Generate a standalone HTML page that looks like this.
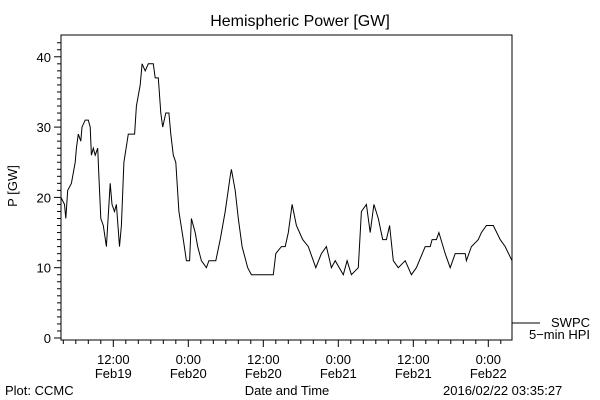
<!DOCTYPE html>
<html><head><meta charset="utf-8"><style>
html,body{margin:0;padding:0;background:#fff;}
svg{display:block;font-family:"Liberation Sans",sans-serif;}
</style></head><body>
<svg id="chart" width="600" height="400" viewBox="0 0 600 400">
<text x="300" y="26" text-anchor="middle" font-size="16">Hemispheric Power [GW]</text>
<text x="17" y="186" text-anchor="middle" font-size="13" transform="rotate(-90 17 186)">P [GW]</text>
<text x="287" y="395" text-anchor="middle" font-size="13">Date and Time</text>
<text x="5" y="395" font-size="13">Plot: CCMC</text>
<text x="443" y="395" font-size="13">2016/02/22 03:35:27</text>
<rect x="61" y="35" width="451" height="305" fill="none" stroke="#000" stroke-width="1"/>
<g id="yaxis"></g>
<g id="xaxis"></g>
<g id="series"></g>
<line x1="512" y1="323" x2="540" y2="323" stroke="#000"/>
<text x="590" y="327" text-anchor="end" font-size="13">SWPC</text>
<text x="590" y="339" text-anchor="end" font-size="13">5−min HPI</text>
</svg>
<script>
// hours since 0:00 Feb19
const times = [3.6,4.2,4.4,4.7,5.3,5.9,6.1,6.4,6.8,7.0,7.5,8.0,8.3,8.5,8.8,9.1,9.5,9.7,10.0,10.4,10.9,11.5,11.8,12.2,12.5,13.0,13.3,13.7,14.4,15.4,15.7,16.3,16.6,17.1,17.6,18.4,18.7,19.2,19.6,19.9,20.4,20.9,21.2,21.6,22.0,22.5,23.2,23.7,24.2,24.5,25.1,25.5,26.1,26.9,27.3,28.4,29.1,29.9,30.7,30.9,31.5,32.0,32.6,33.5,34.1,37.6,38.0,38.9,39.5,40.0,40.6,41.3,42.3,43.2,44.4,45.3,46.1,46.9,47.5,48.8,49.4,50.1,51.2,51.7,52.5,53.1,53.7,54.4,55.1,55.7,56.2,56.8,57.6,58.7,59.7,60.5,61.9,62.7,63.0,63.7,64.1,65.1,65.9,66.7,68.3,68.5,69.3,70.4,70.9,71.7,72.8,73.9,74.7,75.8];
const power = [20,19,17,21,22,25,27,29,28,30,31,31,30,26,27,26,27,23,17,16,13,22,19,18,19,13,16,25,29,29,33,36,39,38,39,39,37,37,32,30,32,32,29,26,25,18,14,11,11,17,15,13,11,10,11,11,14,18,23,24,21,17,13,10,9,9,12,13,13,15,19,16,14,13,10,12,13,10,11,9,11,9,10,18,19,15,19,17,14,14,16,11,10,11,9,10,13,13,14,14,15,12,10,12,12,11,13,14,15,16,16,14,13,11];
const yTicks = [0,10,20,30,40];
const xTickHours = [12,24,36,48,60,72];
const xTickTime = ["12:00","0:00","12:00","0:00","12:00","0:00"];
const xTickDate = ["Feb19","Feb20","Feb20","Feb21","Feb21","Feb22"];

const NS="http://www.w3.org/2000/svg";
const X0=61,X1=512,Y0=35,Y1=340;
function xs(h){return 113.3+(h-12)*6.25;}
function ys(v){return 338-v*7.03;}
function mk(tag,attrs,parent){const e=document.createElementNS(NS,tag);for(const k in attrs)e.setAttribute(k,attrs[k]);parent.appendChild(e);return e;}
const yg=document.getElementById('yaxis'),xg=document.getElementById('xaxis'),sg=document.getElementById('series');
for(let v=0;v<=42;v++){
  const y=ys(v);const major=v%10===0;
  const t=mk('line',{x1:X0-(major?7:4),x2:X0,y1:y,y2:y,stroke:'#000'},yg);
  
  
}
yTicks.forEach(v=>{
  const t=mk('text',{x:X0-10,y:ys(v)+5,'text-anchor':'end','font-size':13},yg);
  t.textContent=v;
  
  
});
for(let h=4;h<=76;h+=2){
  const x=xs(h);if(x<X0||x>X1)continue;const major=h%12===0;
  const t=mk('line',{x1:x,x2:x,y1:Y1,y2:Y1+(major?7:4),stroke:'#000'},xg);
  
  
}
xTickHours.forEach((h,i)=>{
  const a=mk('text',{x:xs(h),y:364,'text-anchor':'middle','font-size':13},xg);
  a.textContent=xTickTime[i];
  
  
  const b=mk('text',{x:xs(h),y:378,'text-anchor':'middle','font-size':13},xg);
  b.textContent=xTickDate[i];
  
  
});
let pts=[];
for(let i=0;i<times.length;i++){
  const x=Math.max(X0,Math.min(X1,xs(times[i])));
  pts.push(x.toFixed(1)+','+ys(power[i]).toFixed(1));
}
const pl=mk('polyline',{points:pts.join(' '),fill:'none',stroke:'#000','stroke-width':1},sg);


</script>
</body></html>
